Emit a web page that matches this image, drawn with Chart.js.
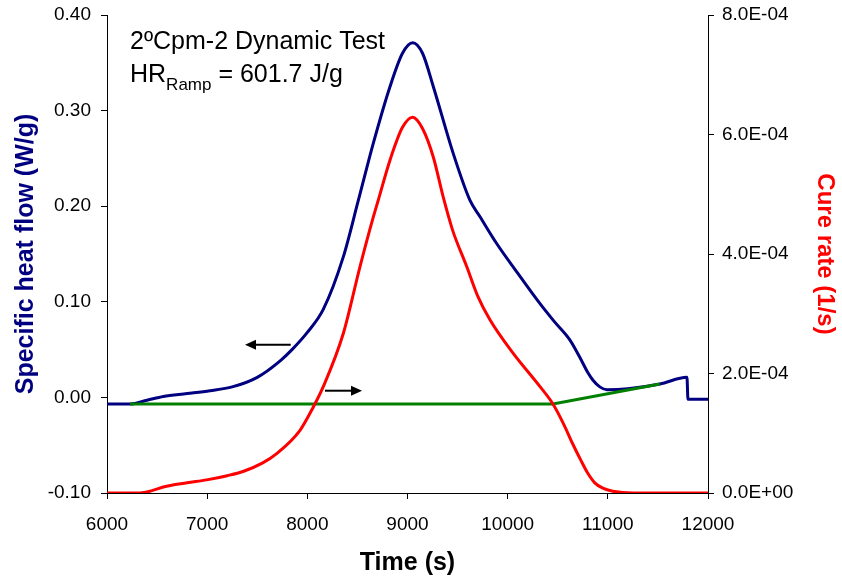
<!DOCTYPE html>
<html>
<head>
<meta charset="utf-8">
<script src="https://cdn.jsdelivr.net/npm/chart.js@4"></script>
<style>
  body { margin: 0; background: #fff; }
  #wrap { width: 842px; height: 582px; }
</style>
</head>
<body>
<div id="wrap"><canvas id="cureChart" width="842" height="582"></canvas></div>
<script>
// Specific heat flow (W/g), left axis
const heatTime = [6000, 6230, 6400, 6562, 6800, 7028, 7250, 7500, 7726, 7847, 8000, 8159, 8359, 8509, 8659, 8825, 8950, 9052, 9150, 9258, 9457, 9624, 9724, 9890, 10100, 10323, 10460, 10622, 10720, 10800, 10852, 10920, 10992, 11200, 11520, 11790, 11800, 12000];
const heatFlow = [-0.007, -0.007, -0.003, 0.001, 0.004, 0.007, 0.011, 0.021, 0.038, 0.050, 0.068, 0.092, 0.147, 0.206, 0.266, 0.325, 0.360, 0.371, 0.360, 0.325, 0.255, 0.206, 0.189, 0.161, 0.130, 0.098, 0.080, 0.060, 0.042, 0.026, 0.018, 0.011, 0.008, 0.009, 0.014, 0.021, -0.002, -0.002];

// Baseline under the exotherm, left axis
const baseTime = [6230, 10452, 11520];
const baseFlow = [-0.007, -0.007, 0.014];

// Cure rate (1/s), right axis
const cureTime = [6000, 6330, 6450, 6562, 6800, 6995, 7200, 7358, 7550, 7694, 7927, 8060, 8159, 8359, 8526, 8659, 8708, 8825, 8950, 9052, 9150, 9258, 9357, 9450, 9591, 9700, 9823, 10050, 10323, 10452, 10560, 10650, 10730, 10800, 10870, 10950, 11050, 11250, 12000];
const cureRate = [0, 0, 0.04e-4, 0.10e-4, 0.17e-4, 0.22e-4, 0.29e-4, 0.36e-4, 0.50e-4, 0.66e-4, 1.05e-4, 1.44e-4, 1.78e-4, 2.67e-4, 3.79e-4, 4.62e-4, 4.90e-4, 5.57e-4, 6.12e-4, 6.29e-4, 6.10e-4, 5.62e-4, 4.95e-4, 4.40e-4, 3.79e-4, 3.30e-4, 2.90e-4, 2.35e-4, 1.78e-4, 1.49e-4, 1.15e-4, 0.82e-4, 0.55e-4, 0.33e-4, 0.17e-4, 0.08e-4, 0.03e-4, 0, 0];

// arrows: [x tail, x tip, y on left axis]
const arrowLeft = [7834, 7378, 0.055];
const arrowRight = [8176, 8546, 0.007];

function pts(xs, ys) {
    return xs.map((x, i) => ({ x: x, y: ys[i] }));
}

function sciLabel(v) {
    if (Math.abs(v) < 1e-12) return '0.0E+00';
    const parts = v.toExponential(1).split('e');
    let exp = parseInt(parts[1], 10);
    const sign = exp < 0 ? '-' : '+';
    exp = Math.abs(exp);
    return parts[0] + 'E' + sign + (exp < 10 ? '0' + exp : exp);
}

const FONT = '"Liberation Sans", Arial, sans-serif';

// keep the plot area fixed: no extra room for half tick labels
function fitVertical(width) {
    return s => {
        s.width = width;
        s.paddingTop = 0;
        s.paddingBottom = 0;
    };
}

const annotations = {
    id: 'annotations',
    afterDatasetsDraw(chart) {
        const ctx = chart.ctx;
        const xs = chart.scales.x;
        const ys = chart.scales.y;

        // arrows
        [arrowLeft, arrowRight].forEach(a => {
            const x1 = xs.getPixelForValue(a[0]);
            const x2 = xs.getPixelForValue(a[1]);
            const y = ys.getPixelForValue(a[2]);
            const dir = x2 > x1 ? 1 : -1;
            ctx.save();
            ctx.strokeStyle = '#000';
            ctx.fillStyle = '#000';
            ctx.lineWidth = 2;
            ctx.beginPath();
            ctx.moveTo(x1, y);
            ctx.lineTo(x2 - dir * 8, y);
            ctx.stroke();
            ctx.beginPath();
            ctx.moveTo(x2, y);
            ctx.lineTo(x2 - dir * 11, y - 5);
            ctx.lineTo(x2 - dir * 11, y + 5);
            ctx.closePath();
            ctx.fill();
            ctx.restore();
        });

        // text block
        ctx.save();
        ctx.fillStyle = '#000';
        ctx.textBaseline = 'alphabetic';
        ctx.textAlign = 'left';
        ctx.font = '25px ' + FONT;
        ctx.fillText('2ºCpm-2 Dynamic Test', 130, 49);
        let x = 130;
        ctx.fillText('HR', x, 82);
        x += ctx.measureText('HR').width;
        ctx.font = '17px ' + FONT;
        ctx.fillText('Ramp', x, 90);
        x += ctx.measureText('Ramp').width;
        ctx.font = '25px ' + FONT;
        ctx.fillText(' = 601.7 J/g', x, 82);
        ctx.restore();
    }
};

const ctx = document.getElementById('cureChart').getContext('2d');
new Chart(ctx, {
    type: 'line',
    data: {
        datasets: [
            {
                label: 'Cure rate',
                data: pts(cureTime, cureRate),
                yAxisID: 'y1',
                borderColor: '#FF0000',
                borderWidth: 3,
                pointRadius: 0,
                cubicInterpolationMode: 'monotone',
                order: 1
            },
            {
                label: 'Baseline',
                data: pts(baseTime, baseFlow),
                yAxisID: 'y',
                borderColor: '#008000',
                borderWidth: 3,
                pointRadius: 0,
                tension: 0,
                order: 2
            },
            {
                label: 'Specific heat flow',
                data: pts(heatTime, heatFlow),
                yAxisID: 'y',
                borderColor: '#000080',
                borderWidth: 3,
                pointRadius: 0,
                cubicInterpolationMode: 'monotone',
                order: 3
            }
        ]
    },
    options: {
        responsive: false,
        animation: false,
        layout: { padding: { top: 15, left: 0, right: 0, bottom: 0 } },
        plugins: {
            legend: { display: false },
            tooltip: { enabled: false }
        },
        scales: {
            x: {
                type: 'linear',
                min: 6000,
                max: 12000,
                afterFit: s => { s.height = 89; s.paddingLeft = 0; s.paddingRight = 0; },
                ticks: {
                    stepSize: 1000,
                    color: '#000',
                    padding: 14,
                    callback: v => String(v),
                    font: { family: FONT, size: 19 }
                },
                grid: { drawOnChartArea: false, tickLength: 6, color: '#000' },
                border: { color: '#000', width: 1 },
                title: {
                    display: true,
                    text: 'Time (s)',
                    color: '#000',
                    padding: { top: 0, bottom: 4 },
                    font: { family: FONT, size: 25, weight: 'bold' }
                }
            },
            y: {
                position: 'left',
                min: -0.1,
                max: 0.4,
                afterFit: fitVertical(107),
                ticks: {
                    stepSize: 0.1,
                    color: '#000',
                    padding: 10,
                    callback: v => v.toFixed(2),
                    font: { family: FONT, size: 19 }
                },
                grid: { drawOnChartArea: false, tickLength: 6, color: '#000' },
                border: { color: '#000', width: 1 },
                title: {
                    display: true,
                    text: 'Specific heat flow (W/g)',
                    color: '#000080',
                    padding: { top: 11, bottom: 0 },
                    font: { family: FONT, size: 25, weight: 'bold' }
                }
            },
            y1: {
                position: 'right',
                min: 0,
                max: 8e-4,
                afterFit: fitVertical(134),
                ticks: {
                    stepSize: 2e-4,
                    color: '#000',
                    padding: 8,
                    callback: v => sciLabel(v),
                    font: { family: FONT, size: 19 }
                },
                grid: { drawOnChartArea: false, tickLength: 6, color: '#000' },
                border: { color: '#000', width: 1 },
                title: {
                    display: true,
                    text: 'Cure rate (1/s)',
                    color: '#FF0000',
                    padding: { top: 3, bottom: 0 },
                    font: { family: FONT, size: 24, weight: 'bold' }
                }
            }
        }
    },
    plugins: [annotations]
});
</script>
</body>
</html>
